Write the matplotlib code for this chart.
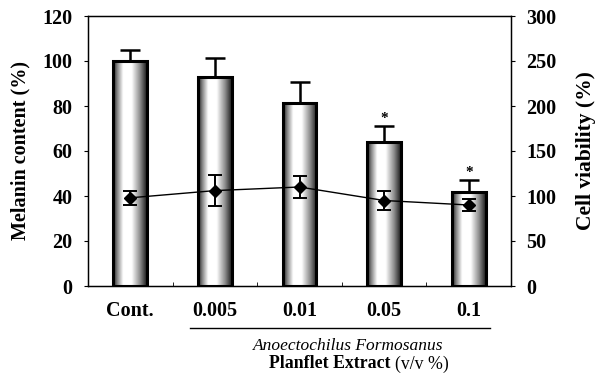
import numpy as np
import matplotlib
matplotlib.use("Agg")
import matplotlib.pyplot as plt
from matplotlib.colors import LinearSegmentedColormap

categories = ["Cont.", "0.005", "0.01", "0.05", "0.1"]
melanin = [100, 93, 81.5, 64, 42]
melanin_err = [5, 8.5, 9, 7, 5]
viability = [98, 106, 110, 95, 90]
viability_err = [8, 17, 12, 11, 7]
significant = [False, False, False, True, True]
left_ticks = [0, 20, 40, 60, 80, 100, 120]
right_ticks = [0, 50, 100, 150, 200, 250, 300]

plt.rcParams['font.family'] = ['Liberation Serif', 'DejaVu Serif']

fig = plt.figure(figsize=(6.03, 3.79), dpi=100)
ax = fig.add_axes([88/603, 1-286/379, (511-88)/603, (286-16)/379])

x = np.arange(len(categories))
w = 0.4
bars = ax.bar(x, melanin, width=w, facecolor='none', edgecolor='black', linewidth=2.2, zorder=3)

cmap = LinearSegmentedColormap.from_list('cyl', [
    (0.0, (0.1, 0.1, 0.1)), (0.12, (0.5, 0.5, 0.5)), (0.3, (1, 1, 1)),
    (0.55, (1, 1, 1)), (0.8, (0.55, 0.55, 0.55)), (1.0, (0.1, 0.1, 0.1))])
grad = np.linspace(0, 1, 256).reshape(1, -1)
for xi, h, b in zip(x, melanin, bars):
    im = ax.imshow(grad, cmap=cmap, aspect='auto', extent=[xi - w/2, xi + w/2, 0, h],
                   zorder=2, interpolation='bilinear')
    im.set_clip_path(b)

ax.errorbar(x, melanin, yerr=[np.zeros(len(x)), melanin_err], fmt='none', ecolor='black',
            elinewidth=1.8, capsize=7, capthick=1.8, zorder=4)
for xi, h, e, s in zip(x, melanin, melanin_err, significant):
    if s:
        ax.text(xi, h + e + 0.5, "*", ha='center', va='bottom', fontsize=11, fontweight='bold')

ax.set_xlim(-0.5, len(categories) - 0.5)
ax.set_ylim(0, 120)
ax.set_yticks(left_ticks)
ax.set_xticks(x)
ax.set_xticklabels(categories)
ax.set_xticks(x[:-1] + 0.5, minor=True)
ax.tick_params(axis='x', which='major', length=0, pad=11)
ax.tick_params(axis='x', which='minor', direction='in', length=3)
ax.tick_params(axis='y', direction='out', length=3, pad=8)
for lab in ax.get_xticklabels():
    lab.set_fontweight('bold')
    lab.set_fontsize(14.5)
for lab in ax.get_yticklabels():
    lab.set_fontweight('bold')
    lab.set_fontsize(14.5)
ax.set_ylabel("Melanin content (%)", fontsize=14.5, fontweight='bold', labelpad=9)
for sp in ax.spines.values():
    sp.set_linewidth(1.0)

ax2 = ax.twinx()
ax2.set_ylim(0, 300)
ax2.set_yticks(right_ticks)
ax2.errorbar(x, viability, yerr=viability_err, fmt='-D', color='black', lw=1.0,
             markersize=6.5, capsize=5, elinewidth=1.4, capthick=1.4, zorder=5)
ax2.tick_params(axis='y', direction='out', length=3, pad=8)
for lab in ax2.get_yticklabels():
    lab.set_fontweight('bold')
    lab.set_fontsize(14.5)
ax2.set_ylabel("Cell viability (%)", fontsize=15.5, fontweight='bold', labelpad=14)

# underline and group label
fig.add_artist(plt.Line2D([190/603, 490/603], [1-328/379, 1-328/379], color='black', lw=1.0))
fig.text(348/603, 1-346/379, "Anoectochilus Formosanus", ha='center', va='center',
         fontsize=12.5, style='italic', family='Liberation Serif')
fig.text(395/603, 1-364/379, "Planflet Extract ", ha='right', va='center', fontsize=12.8, fontweight='bold')
fig.text(395/603, 1-364/379, "(v/v %)", ha='left', va='center', fontsize=12.8)

fig.savefig("out.png", dpi=100)
